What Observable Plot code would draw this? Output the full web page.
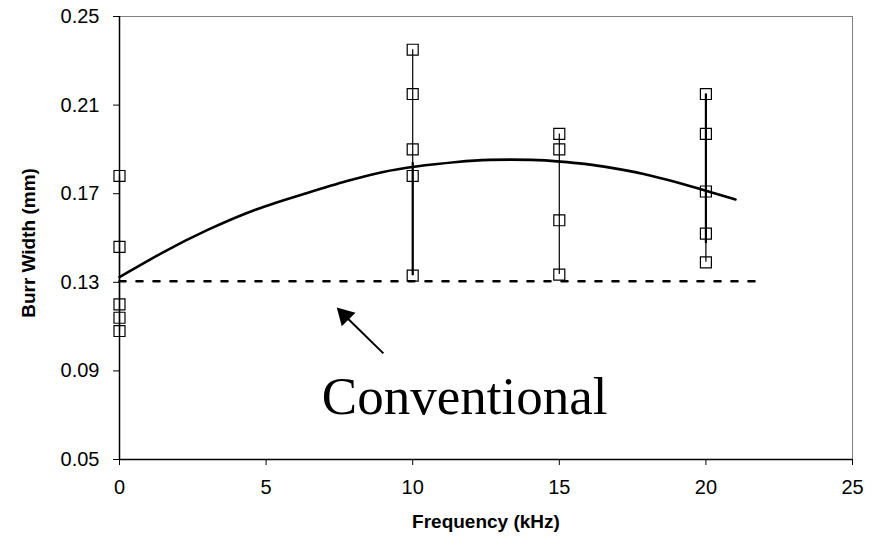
<!DOCTYPE html>
<html>
<head>
<meta charset="utf-8">
<script src="https://cdn.jsdelivr.net/npm/d3@7"></script>
<script src="https://cdn.jsdelivr.net/npm/@observablehq/plot@0.6"></script>
<style>
  html, body { margin: 0; padding: 0; background: #fff; }
  #chart svg { display: block; }
</style>
</head>
<body>
<div id="chart"></div>
<script>
// Measured burr widths (mm) at each frequency (kHz)
const freq0 = [0.178, 0.146, 0.120, 0.114, 0.108];
const freq10 = [0.235, 0.215, 0.190, 0.178, 0.133];
const freq15 = [0.197, 0.190, 0.158, 0.1335];
const freq20 = [0.215, 0.197, 0.171, 0.152, 0.139];
const frequencies = [0, 10, 15, 20];
const groups = [freq0, freq10, freq15, freq20];

// Thicker sub-range segments drawn on the vertical lines
const thickX = [10, 20];
const thickLow = [0.133, 0.1475];
const thickHigh = [0.184, 0.215];

// Trend curve
const curveX = [0, 1.57, 2.93, 4.64, 6.34, 7.81, 8.97, 10.03, 11.63, 12.48, 14.19, 15.04, 15.83, 16.75, 17.87, 19.03, 19.99, 21.01];
const curveY = [0.1323, 0.1444, 0.1534, 0.1633, 0.1701, 0.1760, 0.1800, 0.1823, 0.1845, 0.1854, 0.1854, 0.1845, 0.1836, 0.1818, 0.1791, 0.1751, 0.1714, 0.1674];

// Conventional level (dashed)
const conventionalX = [0, 22];
const conventionalY = 0.1305;

// Annotation
const annoLabel = "Conventional";
const annoPos = {x: 11.77, y: 0.078};
const arrowTail = {x: 9.0, y: 0.0979};
const arrowHead = {x: 7.68, y: 0.1150};

// Axis ticks
const xTicks = [0, 5, 10, 15, 20, 25];
const yTicks = [0.05, 0.09, 0.13, 0.17, 0.21, 0.25];
const xTitle = "Frequency (kHz)";
const yTitle = "Burr Width (mm)";

const points = groups.flatMap((vals, i) => vals.map(v => ({x: frequencies[i], y: v})));
const ranges = groups.map((vals, i) => ({x: frequencies[i], lo: d3.min(vals), hi: d3.max(vals)}));
const thick = thickX.map((x, i) => ({x, lo: thickLow[i], hi: thickHigh[i]}));
const curve = curveX.map((x, i) => ({x, y: curveY[i]}));
const conv = conventionalX.map(x => ({x, y: conventionalY}));

const sans = "'Liberation Sans', Arial, sans-serif";

const plot = Plot.plot({
  width: 878,
  height: 545,
  marginLeft: 119,
  marginRight: 26,
  marginTop: 16,
  marginBottom: 86,
  style: {fontFamily: sans, background: "#fff", color: "#000"},
  x: {domain: [0, 25]},
  y: {domain: [0.05, 0.25]},
  marks: [
    // frame: gray top and right
    Plot.ruleY([0.25], {stroke: "#808080", strokeWidth: 1}),
    Plot.ruleX([25], {stroke: "#808080", strokeWidth: 1}),
    // conventional dashed line
    Plot.line(conv, {x: "x", y: "y", stroke: "#000", strokeWidth: 2.6, strokeDasharray: "6,11"}),
    // vertical ranges
    Plot.ruleX(ranges, {x: "x", y1: "lo", y2: "hi", stroke: "#000", strokeWidth: 1.2}),
    Plot.ruleX(thick, {x: "x", y1: "lo", y2: "hi", stroke: "#000", strokeWidth: 2.2}),
    // trend curve
    Plot.line(curve, {x: "x", y: "y", curve: "basis", stroke: "#000", strokeWidth: 2.6}),
    // data squares
    Plot.dot(points, {x: "x", y: "y", symbol: "square", r: 6.2, stroke: "#000", strokeWidth: 1.2, fill: "none"}),
    // axes
    Plot.axisX({ticks: xTicks, tickSize: 6, tickPadding: 14, fontSize: 20, label: null, tickFormat: d3.format("d")}),
    Plot.axisY({ticks: yTicks, tickSize: 6, tickPadding: 14, fontSize: 20, label: null, tickFormat: d3.format(".2f")}),
    Plot.ruleX([0], {stroke: "#000", strokeWidth: 1.5}),
    Plot.ruleY([0.05], {stroke: "#000", strokeWidth: 1.5}),
    // axis titles
    Plot.text([xTitle], {frameAnchor: "bottom", dy: 68, text: d => d, fontSize: 19, fontWeight: "bold", fontFamily: sans}),
    Plot.text([yTitle], {frameAnchor: "left", dx: -91, dy: 5, rotate: -90, textAnchor: "middle", text: d => d, fontSize: 19, fontWeight: "bold", fontFamily: sans}),
    // annotation
    Plot.text([annoPos], {x: "x", y: "y", text: () => annoLabel, fontSize: 53, fontFamily: "'Liberation Serif', 'Times New Roman', serif", fill: "#000"}),
    Plot.link([{t: arrowTail, h: arrowHead}], {x1: d => d.t.x, y1: d => d.t.y, x2: d => d.h.x, y2: d => d.h.y, stroke: "#000", strokeWidth: 2}),
    Plot.dot([arrowHead], {x: "x", y: "y", symbol: "triangle", r: 7.2, fill: "#000", stroke: "none", rotate: -45})
  ]
});
document.getElementById("chart").appendChild(plot);
</script>
</body>
</html>
